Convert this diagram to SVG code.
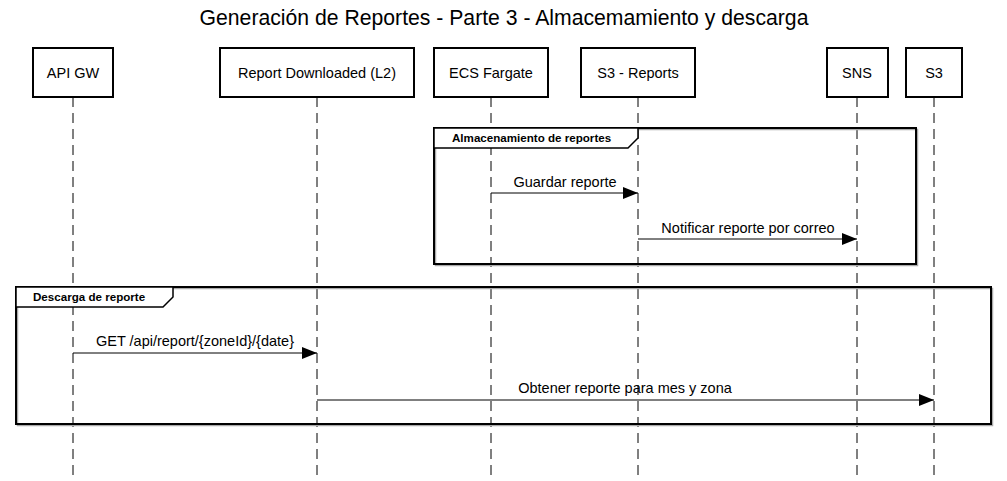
<svg xmlns="http://www.w3.org/2000/svg" width="1007" height="481" viewBox="0 0 1007 481">
<style>
text{font-family:"Liberation Sans",Arial,sans-serif;fill:#000}
.title{font-size:21.2px}
.lbl{font-size:14.5px}
.ftab{font-size:11.6px;font-weight:bold}
.box{fill:#fff;stroke:#000;stroke-width:2}
.shadow{fill:none;stroke:#aaa;stroke-width:1.5}
.life{stroke:#000;stroke-width:1;stroke-dasharray:10,6}
.msg{stroke:#000;stroke-width:1;fill:none}
.frame{fill:none;stroke:#000;stroke-width:2}
.tab{fill:#fff;stroke:#000;stroke-width:1.5}
</style>
<defs>
<marker id="arr" markerWidth="16" markerHeight="12" refX="15" refY="6" orient="auto" markerUnits="userSpaceOnUse">
<path d="M0,0 L15,6 L0,12 Z" fill="#000"/>
</marker>
</defs>
<rect width="1007" height="481" fill="#fff"/>
<text class="title" x="504" y="25" text-anchor="middle">Generación de Reportes - Parte 3 - Almacemamiento y descarga</text>

<g id="lifelines">
<line class="life" x1="73" y1="97" x2="73" y2="481"/>
<line class="life" x1="317" y1="97" x2="317" y2="481"/>
<line class="life" x1="491" y1="97" x2="491" y2="481"/>
<line class="life" x1="638" y1="97" x2="638" y2="481"/>
<line class="life" x1="857" y1="97" x2="857" y2="481"/>
<line class="life" x1="934" y1="97" x2="934" y2="481"/>
</g>

<g id="p-apigw"><rect class="box" x="33" y="48" width="80" height="49"/><text class="lbl" x="73" y="78" text-anchor="middle">API GW</text></g>
<g id="p-report"><rect class="box" x="220" y="48" width="194" height="49"/><text class="lbl" x="317" y="78" text-anchor="middle">Report Downloaded (L2)</text></g>
<g id="p-ecs"><rect class="box" x="434" y="48" width="114" height="49"/><text class="lbl" x="491" y="78" text-anchor="middle">ECS Fargate</text></g>
<g id="p-s3reports"><rect class="box" x="581" y="48" width="114" height="49"/><text class="lbl" x="638" y="78" text-anchor="middle">S3 - Reports</text></g>
<g id="p-sns"><rect class="box" x="827" y="48" width="61" height="49"/><text class="lbl" x="857" y="78" text-anchor="middle">SNS</text></g>
<g id="p-s3"><rect class="box" x="906" y="48" width="56" height="49"/><text class="lbl" x="934" y="78" text-anchor="middle">S3</text></g>

<g id="frame-almacenamiento">
<rect class="shadow" x="435.5" y="129.5" width="482" height="136"/>
<rect class="frame" x="434" y="128" width="482" height="136"/>
<path class="tab" d="M434,128 L638,128 L638,138 L628,148 L434,148 Z"/>
<text class="ftab" x="452" y="142">Almacenamiento de reportes</text>
</g>

<g id="frame-descarga">
<rect class="shadow" x="17.5" y="288.5" width="975" height="137"/>
<rect class="frame" x="16" y="287" width="975" height="137"/>
<path class="tab" d="M16,287 L173,287 L173,297 L163,307 L16,307 Z"/>
<text class="ftab" x="33" y="301">Descarga de reporte</text>
</g>

<g id="connectors">
<line class="msg" x1="491" y1="193" x2="638" y2="193" marker-end="url(#arr)"/>
<text class="lbl" x="565" y="187" text-anchor="middle">Guardar reporte</text>
<line class="msg" x1="638" y1="239" x2="857" y2="239" marker-end="url(#arr)"/>
<text class="lbl" x="748" y="233" text-anchor="middle">Notificar reporte por correo</text>
<line class="msg" x1="73" y1="353" x2="317" y2="353" marker-end="url(#arr)"/>
<text class="lbl" x="195" y="346" text-anchor="middle">GET /api/report/{zoneId}/{date}</text>
<line class="msg" x1="317" y1="400" x2="934" y2="400" marker-end="url(#arr)"/>
<text class="lbl" x="625" y="393" text-anchor="middle">Obtener reporte para mes y zona</text>
</g>
</svg>
